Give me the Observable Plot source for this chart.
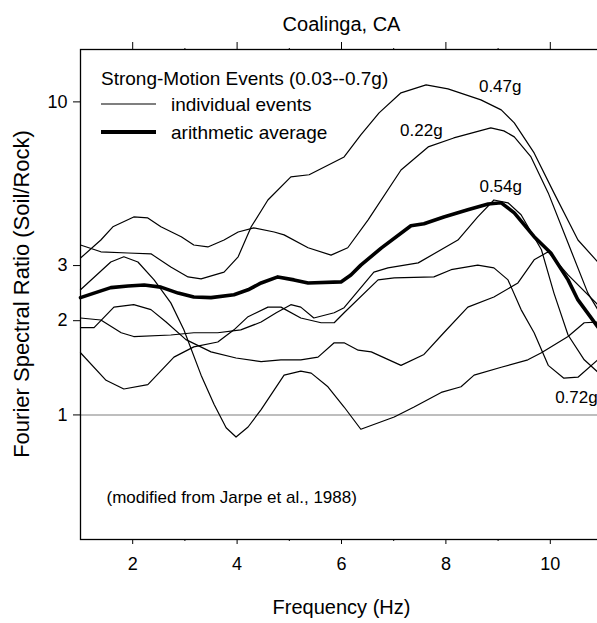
<!DOCTYPE html>
<html>
<head>
<meta charset="utf-8">
<script src="https://cdn.jsdelivr.net/npm/d3@7"></script>
<script src="https://cdn.jsdelivr.net/npm/@observablehq/plot@0.6"></script>
<style>
  html, body { margin: 0; padding: 0; overflow: hidden; background: #fff; }
</style>
</head>
<body>
<div id="chart"></div>
<script>
// Soil/rock Fourier spectral ratios, Coalinga strong-motion events.
// Each series: [frequency (Hz), spectral ratio]
const ev047 = [[1.00,3.49],[1.39,3.32],[1.91,3.29],[2.35,3.27],[2.73,2.97],[3.06,2.76],[3.31,2.72],[3.75,2.86],[4.02,3.20],[4.27,3.99],[4.59,4.86],[5.03,5.76],[5.38,5.85],[6.05,6.67],[6.37,7.85],[6.72,9.22],[7.14,10.69],[7.62,11.33],[8.04,11.00],[8.67,10.15],[9.06,9.43],[9.31,8.57],[9.69,6.87],[10.07,5.12],[10.53,3.62],[10.91,3.08],[11.00,3.00]];
const ev022 = [[1.00,3.17],[1.39,3.62],[1.62,3.99],[2.02,4.29],[2.29,4.26],[2.54,3.99],[2.93,3.71],[3.17,3.49],[3.44,3.44],[3.75,3.62],[4.02,3.84],[4.32,3.96],[4.71,3.84],[4.90,3.76],[5.36,3.42],[5.80,3.24],[6.12,3.42],[6.51,4.20],[7.14,6.06],[7.66,7.18],[8.15,7.67],[8.86,8.26],[9.11,8.08],[9.31,7.73],[9.63,6.67],[9.96,5.12],[10.34,3.54],[10.72,2.45],[10.91,2.17],[11.00,2.10]];
const ev054 = [[1.00,2.04],[1.39,2.01],[1.78,1.83],[2.02,1.78],[2.73,1.80],[3.17,1.83],[3.63,1.83],[4.07,1.87],[4.46,1.98],[4.75,2.12],[5.03,2.25],[5.22,2.21],[5.47,2.04],[5.86,2.12],[6.05,2.20],[6.62,2.86],[6.89,2.95],[7.47,3.06],[8.23,3.62],[8.61,4.29],[8.92,4.86],[9.19,4.76],[9.44,4.36],[9.83,3.37],[10.07,2.45],[10.34,1.80],[10.65,1.50],[10.91,1.37],[11.00,1.33]];
const ev072 = [[1.00,1.58],[1.49,1.29],[1.83,1.21],[2.29,1.25],[2.79,1.53],[3.17,1.65],[3.63,1.71],[3.94,1.87],[4.21,2.06],[4.59,2.21],[4.84,2.21],[5.22,2.04],[5.61,1.97],[5.86,1.97],[6.05,2.12],[6.70,2.70],[7.01,2.74],[7.77,2.76],[8.10,2.91],[8.61,3.01],[8.92,2.95],[9.19,2.70],[9.44,2.17],[9.69,1.83],[9.96,1.44],[10.26,1.31],[10.53,1.32],[10.91,1.50],[11.00,1.53]];
const evA = [[1.00,2.51],[1.58,3.08],[1.83,3.20],[2.10,3.08],[2.41,2.70],[2.73,2.28],[2.98,1.87],[3.31,1.34],[3.56,1.08],[3.79,0.91],[3.98,0.85],[4.21,0.915],[4.46,1.04],[4.90,1.34],[5.22,1.38],[5.42,1.36],[5.74,1.23],[6.05,1.06],[6.37,0.90],[7.01,0.985],[7.39,1.06],[7.91,1.18],[8.29,1.23],[8.54,1.34],[9.06,1.42],[9.57,1.50],[9.83,1.58],[10.34,1.78],[10.65,1.97],[10.91,1.98],[11.00,1.98]];
const evB = [[1.00,1.90],[1.26,1.90],[1.64,2.21],[2.02,2.25],[2.35,2.17],[2.64,1.98],[3.02,1.74],[3.50,1.59],[3.98,1.52],[4.46,1.48],[4.84,1.50],[5.22,1.50],[5.55,1.53],[5.86,1.70],[6.05,1.70],[6.32,1.61],[6.57,1.59],[7.14,1.44],[7.58,1.56],[7.96,1.83],[8.42,2.21],[8.92,2.38],[9.38,2.64],[9.69,3.13],[9.96,3.32],[10.34,2.80],[10.91,2.25],[11.00,2.20]];
const average = [[1.00,2.37],[1.26,2.45],[1.58,2.55],[1.91,2.58],[2.22,2.60],[2.54,2.56],[2.87,2.45],[3.17,2.38],[3.50,2.37],[3.94,2.42],[4.21,2.51],[4.46,2.64],[4.78,2.76],[5.09,2.70],[5.36,2.64],[5.99,2.66],[6.18,2.80],[6.37,3.01],[6.76,3.41],[7.33,4.02],[7.58,4.08],[7.96,4.29],[8.42,4.52],[8.81,4.72],[9.06,4.76],[9.31,4.42],[9.69,3.71],[10.01,3.29],[10.34,2.70],[10.53,2.33],[10.91,1.91],[11.00,1.85]];

// Peak labels: [frequency, ratio, text]
const peakLabels = [[9.04,11.2,"0.47g"],[7.53,8.1,"0.22g"],[9.05,5.35,"0.54g"],[10.50,1.14,"0.72g"]];

const xTicks = [2, 4, 6, 8, 10];
const xMinorTicks = [3, 5, 7, 9];
const yTicks = [1, 2, 3, 10];

const events = [ev047, ev022, ev054, ev072, evA, evB];
const eventRows = events.flatMap((pts, id) => pts.map(([f, r]) => ({id, f, r})));
const avgRows = average.map(([f, r]) => ({f, r}));
const labelRows = peakLabels.map(([f, r, text]) => ({f, r, text}));

const FONT = "'Liberation Sans', Arial, Helvetica, sans-serif";

// Legend in the upper-left corner of the frame, plus the rotated y-axis title
function legend(index, scales, values, dims) {
  const g = d3.create("svg:g").attr("font-family", FONT).attr("fill", "#000").attr("text-anchor", "start");
  const x0 = dims.marginLeft + 21;
  g.append("text").attr("x", x0).attr("y", dims.marginTop + 29).attr("dy", "0.35em")
    .attr("font-size", 19).text("Strong-Motion Events (0.03--0.7g)");
  const rows = [["individual events", 1.2, 55], ["arithmetic average", 4, 83]];
  for (const [label, w, dy] of rows) {
    g.append("line").attr("x1", x0).attr("x2", x0 + 55)
      .attr("y1", dims.marginTop + dy).attr("y2", dims.marginTop + dy)
      .attr("stroke", "#000").attr("stroke-width", w);
    g.append("text").attr("x", x0 + 70).attr("y", dims.marginTop + dy).attr("dy", "0.35em")
      .attr("font-size", 19).text(label);
  }
  const cy = dims.marginTop + (dims.height - dims.marginTop - dims.marginBottom) / 2;
  g.append("text").attr("text-anchor", "middle")
    .attr("transform", `translate(21,${cy}) rotate(-90)`).attr("dy", "0.35em")
    .attr("font-size", 22).text("Fourier Spectral Ratio (Soil/Rock)");
  return g.node();
}

const chart = Plot.plot({
  width: 602,
  height: 623,
  marginLeft: 80,
  marginRight: 0,
  marginTop: 49,
  marginBottom: 84,
  style: {fontFamily: FONT, fontSize: "18px", color: "#000", background: "#fff", overflow: "visible", maxWidth: "none"},
  x: {domain: [1, 11], label: null},
  y: {type: "log", domain: [0.4, 14.7], label: null},
  marks: [
    Plot.ruleY([1], {stroke: "#a8a8a8", strokeWidth: 1.6}),
    Plot.line(eventRows, {x: "f", y: "r", z: "id", stroke: "#000", strokeWidth: 1.2}),
    Plot.line(avgRows, {x: "f", y: "r", stroke: "#000", strokeWidth: 3.6}),
    Plot.frame({stroke: "#000", strokeWidth: 1.3}),
    Plot.axisX({anchor: "bottom", ticks: xTicks, tickSize: 5, tickPadding: 13, fontSize: 18, label: null}),
    Plot.axisX({anchor: "bottom", ticks: xMinorTicks, tickSize: 2, tickFormat: () => "", label: null}),
    Plot.axisX({anchor: "top", ticks: xTicks, tickSize: 8, tickFormat: () => "", label: null}),
    Plot.axisX({anchor: "top", ticks: xMinorTicks, tickSize: 2, tickFormat: () => "", label: null}),
    Plot.axisY({anchor: "left", ticks: yTicks, tickSize: 7, tickPadding: 6, fontSize: 18, tickFormat: d => String(d), label: null}),
    Plot.text(labelRows, {x: "f", y: "r", text: "text", fontSize: 17}),
    Plot.text(["Coalinga, CA"], {frameAnchor: "top", dy: -33, fontSize: 20}),
    Plot.text(["Frequency (Hz)"], {frameAnchor: "bottom", dy: 74, fontSize: 20}),
    Plot.text(["(modified from Jarpe et al., 1988)"], {frameAnchor: "bottom-left", dx: 26, dy: -37, textAnchor: "start", fontSize: 17}),
    legend
  ]
});

document.getElementById("chart").appendChild(chart);
</script>
</body>
</html>
